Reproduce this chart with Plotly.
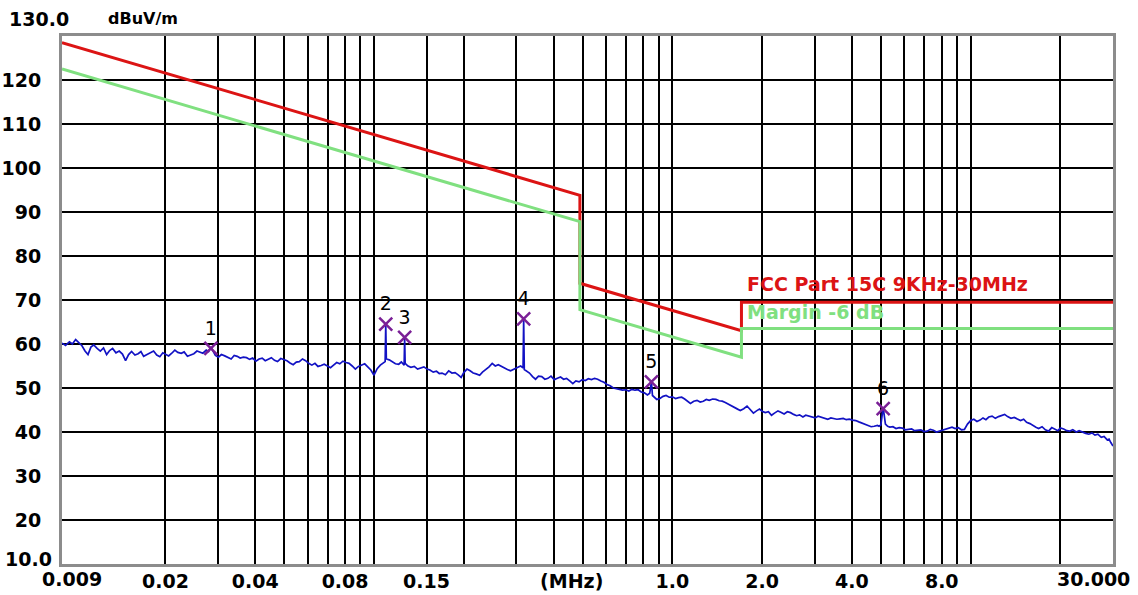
import math
import plotly.graph_objects as go

# ---------------- data ----------------
# measured emission trace (frequency in MHz, level in dBuV/m), read from the plot
freq_mhz = [
    0.0090, 0.00925, 0.00953, 0.00975, 0.0100, 0.01025, 0.0105, 0.01075, 0.0110, 0.01125,
    0.0115, 0.0118, 0.0121, 0.0124, 0.0127, 0.0130, 0.0133, 0.01365, 0.0140, 0.01435,
    0.0147, 0.01505, 0.0154, 0.0158, 0.0162, 0.01655, 0.0169, 0.01735, 0.0178, 0.01825,
    0.0187, 0.01915, 0.0196, 0.0200, 0.0205, 0.0210, 0.0215, 0.0220, 0.0226, 0.0231,
    0.0237, 0.0243, 0.0249, 0.0255, 0.0261, 0.0267, 0.0274, 0.0279, 0.0284, 0.0287,
    0.0294, 0.0301, 0.0308, 0.0316, 0.0324, 0.0332, 0.0340, 0.0348, 0.0356, 0.0365,
    0.0374, 0.0383, 0.0392, 0.0402, 0.0412, 0.0422, 0.0432, 0.0442, 0.0453, 0.0464,
    0.0475, 0.0487, 0.0499, 0.0511, 0.0523, 0.0536, 0.0549, 0.0562, 0.0576, 0.0590,
    0.0604, 0.0619, 0.0634, 0.0649, 0.0665, 0.0681, 0.0698, 0.0715, 0.0732, 0.0750,
    0.0768, 0.0787, 0.0806, 0.0825, 0.0845, 0.0866, 0.0887, 0.0909, 0.0931, 0.0953,
    0.0976, 0.100, 0.1025, 0.105, 0.107, 0.109, 0.1095, 0.110, 0.1125, 0.115,
    0.118, 0.121, 0.1235, 0.1262, 0.1267, 0.1272, 0.130, 0.133, 0.1365, 0.140,
    0.1435, 0.147, 0.1505, 0.154, 0.158, 0.162, 0.1655, 0.169, 0.1735, 0.178,
    0.1825, 0.187, 0.1915, 0.196, 0.200, 0.205, 0.210, 0.215, 0.220, 0.226,
    0.231, 0.237, 0.243, 0.249, 0.255, 0.261, 0.267, 0.274, 0.280, 0.287,
    0.294, 0.301, 0.310, 0.316, 0.3175, 0.319, 0.325, 0.332, 0.340, 0.348,
    0.356, 0.365, 0.374, 0.383, 0.392, 0.402, 0.412, 0.422, 0.432, 0.442,
    0.453, 0.464, 0.475, 0.487, 0.499, 0.511, 0.523, 0.536, 0.549, 0.562,
    0.576, 0.590, 0.604, 0.619, 0.634, 0.649, 0.665, 0.681, 0.698, 0.715,
    0.732, 0.750, 0.768, 0.787, 0.806, 0.825, 0.840, 0.851, 0.858, 0.866,
    0.887, 0.909, 0.931, 0.953, 0.976, 1.00, 1.025, 1.05, 1.075, 1.10,
    1.125, 1.15, 1.18, 1.21, 1.24, 1.27, 1.30, 1.33, 1.365, 1.40,
    1.435, 1.47, 1.505, 1.54, 1.58, 1.62, 1.655, 1.69, 1.735, 1.78,
    1.825, 1.87, 1.915, 1.96, 2.00, 2.05, 2.10, 2.15, 2.20, 2.26,
    2.31, 2.37, 2.43, 2.49, 2.55, 2.61, 2.67, 2.74, 2.80, 2.87,
    2.94, 3.01, 3.08, 3.16, 3.24, 3.32, 3.40, 3.48, 3.56, 3.65,
    3.74, 3.83, 3.92, 4.02, 4.12, 4.22, 4.32, 4.42, 4.53, 4.64,
    4.75, 4.87, 4.93, 5.00, 5.09, 5.18, 5.27, 5.36, 5.49, 5.62,
    5.76, 5.90, 6.04, 6.19, 6.34, 6.49, 6.65, 6.81, 6.98, 7.15,
    7.32, 7.50, 7.68, 7.87, 8.06, 8.25, 8.45, 8.66, 8.87, 9.09,
    9.31, 9.53, 9.76, 10.0, 10.25, 10.5, 10.75, 11.0, 11.25, 11.5,
    11.8, 12.1, 12.4, 12.7, 13.0, 13.3, 13.65, 14.0, 14.35, 14.7,
    15.05, 15.4, 15.8, 16.2, 16.55, 16.9, 17.35, 17.8, 18.25, 18.7,
    19.15, 19.6, 20.0, 20.5, 21.0, 21.5, 22.0, 22.6, 23.1, 23.7,
    24.3, 24.9, 25.5, 26.1, 26.7, 27.4, 28.0, 28.7, 29.1, 29.5,
    30.0,
]
level_dbuv = [
    60.2, 59.7, 60.5, 60.0, 61.0, 60.4, 59.6, 58.4, 57.6, 59.3,
    59.8, 59.0, 58.4, 59.1, 57.6, 58.5, 59.0, 58.0, 58.4, 57.7,
    56.2, 57.6, 58.3, 57.5, 57.8, 58.3, 57.2, 57.6, 58.0, 58.4,
    57.5, 57.1, 58.0, 57.6, 57.3, 57.9, 58.6, 58.1, 57.9, 58.2,
    57.2, 57.5, 57.8, 58.4, 58.2, 57.9, 58.6, 58.3, 59.3, 58.7,
    57.4, 57.0, 57.6, 57.3, 56.9, 56.6, 57.4, 57.2, 56.8, 57.0,
    56.9, 56.5, 56.8, 56.1, 56.6, 56.8, 56.2, 56.6, 56.9, 56.3,
    56.0, 56.7, 56.4, 56.2, 55.7, 55.3, 55.9, 56.0, 56.6, 56.2,
    55.6, 55.2, 55.6, 54.9, 55.1, 55.4, 55.0, 54.6, 55.2, 55.8,
    55.5, 56.1, 55.8, 55.6, 55.0, 54.3, 54.9, 55.2, 55.5, 54.8,
    54.1, 52.9, 54.4, 55.2, 55.6, 56.0, 64.5, 56.6, 56.4, 56.0,
    55.5, 55.4, 55.9, 55.2, 61.5, 55.6, 55.0, 54.7, 54.9, 54.3,
    54.6, 54.8, 54.3, 54.1, 53.6, 53.8, 53.3, 53.4, 53.0, 53.9,
    53.4, 53.5, 53.0, 52.4, 53.5, 54.3, 53.9, 53.4, 53.2, 52.9,
    53.6, 54.2, 54.8, 55.6, 55.0, 55.3, 54.9, 54.6, 54.2, 53.9,
    54.3, 54.5, 55.0, 54.6, 65.7, 54.2, 53.9, 53.4, 52.6, 52.0,
    52.7, 52.6, 52.0, 52.2, 52.7, 51.9, 52.2, 52.5, 52.0, 52.2,
    51.6, 51.0, 51.6, 51.4, 51.9, 51.7, 52.1, 51.9, 52.2, 52.0,
    51.6, 51.3, 50.8, 50.5, 50.0, 49.8, 49.7, 49.5, 49.6, 49.3,
    49.7, 49.5, 49.6, 49.1, 48.9, 48.4, 48.8, 51.4, 48.3, 48.0,
    47.4, 47.6, 48.1, 48.3, 47.9, 48.0, 47.6, 47.8, 47.9, 47.5,
    47.0, 46.5, 47.0, 47.2, 46.8, 47.0, 47.4, 47.2, 47.5, 47.4,
    47.1, 47.0, 46.7, 46.3, 46.0, 45.6, 45.2, 44.9, 45.3, 45.9,
    45.0, 44.3, 44.8, 45.2, 44.7, 44.4, 44.6, 43.8, 44.3, 44.8,
    44.5, 44.1, 44.6, 44.4, 44.0, 43.7, 43.9, 43.4, 43.8, 43.6,
    43.3, 43.2, 43.6, 43.4, 43.1, 42.9, 43.2, 43.1, 42.9, 43.0,
    43.1, 42.8, 42.9, 42.7, 42.6, 42.3, 42.0, 41.8, 41.5, 41.2,
    41.3, 41.5, 41.3, 41.6, 45.6, 41.8, 41.3, 41.1, 41.2, 40.8,
    41.0, 40.9, 40.5, 40.6, 40.7, 40.3, 40.4, 40.5, 40.1, 40.2,
    40.6, 40.4, 40.0, 40.2, 40.5, 40.6, 40.9, 41.1, 40.8, 41.0,
    40.5, 40.6, 41.8, 42.6, 42.9, 42.4, 42.7, 43.2, 42.8, 43.4,
    43.6, 43.1, 43.5, 43.8, 44.0, 43.5, 43.1, 43.3, 43.0, 42.6,
    42.9, 42.2, 41.9, 41.4, 41.1, 40.8, 41.2, 40.5, 40.2, 41.0,
    40.6, 40.3, 40.9, 40.7, 40.3, 40.2, 40.5, 40.0, 40.3, 39.9,
    39.7, 39.5, 39.8, 39.3, 39.5, 38.8, 39.0, 38.2, 38.4, 37.6,
    36.8,
]

# FCC Part 15C limit (3 m) and the -6 dB margin line
limit_freq = [0.009, 0.49, 0.49, 1.705, 1.705, 30.0]
limit_level = [128.5, 93.8, 73.8, 63.0, 69.5, 69.5]
margin_level = [122.5, 87.8, 67.8, 57.0, 63.5, 63.5]

# peak markers
marker_freq = [0.0284, 0.1095, 0.1267, 0.3175, 0.851, 5.09]
marker_level = [59.0, 64.5, 61.5, 65.7, 51.4, 45.3]
marker_label = ["1", "2", "3", "4", "5", "6"]

# axes
grid_freq = [0.02, 0.03, 0.04, 0.05, 0.06, 0.07, 0.08, 0.09, 0.1, 0.15,
             0.2, 0.3, 0.4, 0.5, 0.6, 0.7, 0.8, 0.9, 1.0,
             2, 3, 4, 5, 6, 7, 8, 9, 10, 20]
xtick_vals = [0.02, 0.04, 0.08, 0.15, 0.46, 1.0, 2.0, 4.0, 8.0]
xtick_text = ["0.02", "0.04", "0.08", "0.15", "(MHz)", "1.0", "2.0", "4.0", "8.0"]
ytick_vals = [20, 30, 40, 50, 60, 70, 80, 90, 100, 110, 120]
ytick_text = ["20", "30", "40", "50", "60", "70", "80", "90", "100", "110", "120"]

# ---------------- figure ----------------
FONT = "DejaVu Sans"
RED = "#dc1414"
GREEN = "#80e080"
BLUE = "#1212c4"
PURPLE = "#7a1f96"

fig = go.Figure()
fig.add_trace(go.Scatter(x=freq_mhz, y=level_dbuv, mode="lines",
                         line=dict(color=BLUE, width=1.7), hoverinfo="skip"))
fig.add_trace(go.Scatter(x=limit_freq, y=limit_level, mode="lines",
                         line=dict(color=RED, width=3)))
fig.add_trace(go.Scatter(x=limit_freq, y=margin_level, mode="lines",
                         line=dict(color=GREEN, width=3)))
fig.add_trace(go.Scatter(x=marker_freq, y=marker_level, mode="markers+text",
                         marker=dict(symbol="x-thin-open", size=13, color=PURPLE,
                                     line=dict(color=PURPLE, width=2.5)),
                         text=marker_label, textposition="top center",
                         textfont=dict(family=FONT, size=19, color="black")))

x0 = math.log10(0.009)
x1 = math.log10(30.0)

fig.update_layout(
    width=1138, height=595,
    margin=dict(l=62, r=25, t=36, b=31),
    paper_bgcolor="white", plot_bgcolor="white",
    showlegend=False,
    xaxis=dict(
        type="log", range=[x0, x1], automargin=False,
        tickmode="array", tickvals=xtick_vals, ticktext=xtick_text,
        showgrid=False, ticks="", ticklabelstandoff=-2,
        tickfont=dict(family=FONT, size=19, color="black", weight="bold"),
        minor=dict(tickmode="array", tickvals=grid_freq, showgrid=True,
                   gridcolor="black", gridwidth=2, ticks=""),
        showline=True, mirror=True, linecolor="#8c8c8c", linewidth=3,
        zeroline=False,
    ),
    yaxis=dict(
        range=[10, 130], automargin=False,
        tickmode="array", tickvals=ytick_vals, ticktext=ytick_text,
        showgrid=True, gridcolor="black", gridwidth=2, ticks="",
        ticklabelstandoff=14,
        tickfont=dict(family=FONT, size=19, color="black", weight="bold"),
        showline=True, mirror=True, linecolor="#8c8c8c", linewidth=3,
        zeroline=False,
    ),
)

ann_font = dict(family=FONT, size=19, color="black", weight="bold")
fig.add_annotation(text="130.0", xref="paper", x=-0.022, xanchor="center",
                   yref="y", y=130, yshift=17, showarrow=False, font=ann_font)
fig.add_annotation(text="dBuV/m", xref="paper", x=0.077, xanchor="center",
                   yref="y", y=130, yshift=18, showarrow=False,
                   font=dict(family=FONT, size=16, color="black", weight="bold"))
fig.add_annotation(text="10.0", xref="paper", x=-0.008, xanchor="right",
                   yref="y", y=10, yshift=5, showarrow=False, font=ann_font)
fig.add_annotation(text="0.009", xref="x", x=x0, xanchor="center", xshift=10,
                   yref="paper", y=0, yanchor="top", yshift=-2,
                   showarrow=False, font=ann_font)
fig.add_annotation(text="30.000", xref="x", x=x1, xanchor="center", xshift=-20,
                   yref="paper", y=0, yanchor="top", yshift=-2,
                   showarrow=False, font=ann_font)
fig.add_annotation(text="FCC Part 15C 9KHz-30MHz", xref="x", x=math.log10(1.75),
                   xanchor="left", yref="y", y=73.6, yanchor="middle",
                   showarrow=False,
                   font=dict(family=FONT, size=19, color=RED, weight="bold"))
fig.add_annotation(text="Margin -6 dB", xref="x", x=math.log10(1.75),
                   xanchor="left", yref="y", y=67.2, yanchor="middle",
                   showarrow=False,
                   font=dict(family=FONT, size=19, color=GREEN, weight="bold"))

fig.write_html("out.html", config={"displayModeBar": False},
               post_script="document.body.style.margin='0';")
